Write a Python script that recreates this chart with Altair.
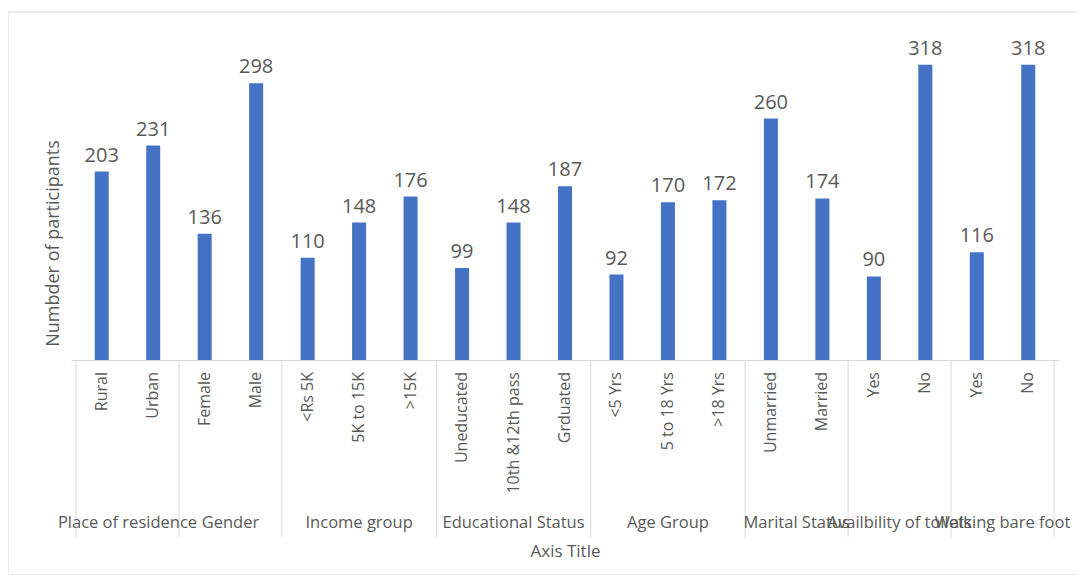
import altair as alt
import pandas as pd

categories = ["Rural", "Urban", "Female", "Male", "<Rs 5K", "5K to 15K", ">15K",
              "Uneducated", "10th &12th pass", "Grduated", "<5 Yrs", "5 to 18 Yrs",
              ">18 Yrs", "Unmarried", "Married", "Yes", "No", "Yes", "No"]
values = [203, 231, 136, 298, 110, 148, 176, 99, 148, 187, 92, 170, 172, 260, 174,
          90, 318, 116, 318]
groups = ["Place of residence", "Gender", "Income group", "Educational Status",
          "Age Group", "Marital Status", "Availbility of toilets", "Walking bare foot"]
group_sizes = [2, 2, 3, 3, 3, 2, 2, 2]

FONT = "Open Sans"
GRAY = "#595959"
LINE = "#d9d9d9"
BLUE = "#4472C4"
W, H = 988, 325

bars_df = pd.DataFrame({
    "pos": [i + 0.5 for i in range(len(categories))],
    "label": categories,
    "value": values,
})

bounds = [0]
for s in group_sizes:
    bounds.append(bounds[-1] + s)
groups_df = pd.DataFrame({
    "group": groups,
    "mid": [(bounds[i] + bounds[i + 1]) / 2 for i in range(len(groups))],
})
bounds_df = pd.DataFrame({"b": bounds})

xscale = alt.Scale(domain=[0, len(categories)], nice=False, zero=False)
yscale = alt.Scale(domain=[0, 350], nice=False)

base = alt.Chart(bars_df)

bars = base.mark_bar(color=BLUE, size=14).encode(
    x=alt.X("pos:Q", scale=xscale,
            axis=alt.Axis(title="Axis Title", labels=False, ticks=False, grid=False,
                          domain=True, domainColor=LINE, domainWidth=1,
                          titleFont=FONT, titleFontSize=17, titleFontWeight="normal",
                          titleColor=GRAY, titleY=191, titleBaseline="middle")),
    y=alt.Y("value:Q", scale=yscale,
            axis=alt.Axis(title="Numbder of participants", labels=False, ticks=False,
                          grid=False, domain=False, titleFont=FONT, titleFontSize=18,
                          titleFontWeight="normal", titleColor=GRAY, titleAngle=270,
                          titleX=-18, titleY=208, titleAlign="center",
                          titleBaseline="middle")),
)

value_labels = base.mark_text(font=FONT, fontSize=20, color=GRAY, baseline="bottom",
                              dy=-6).encode(
    x=alt.X("pos:Q", scale=xscale),
    y=alt.Y("value:Q", scale=yscale),
    text="value:Q",
)

cat_labels = base.mark_text(font=FONT, fontSize=16, color=GRAY, angle=270,
                            align="right", baseline="middle").encode(
    x=alt.X("pos:Q", scale=xscale),
    y=alt.value(H + 12),
    text="label:N",
)

seps = alt.Chart(bounds_df).mark_rule(color=LINE, strokeWidth=1).encode(
    x=alt.X("b:Q", scale=xscale),
    y=alt.value(H),
    y2=alt.value(H + 177),
)

group_labels = alt.Chart(groups_df).mark_text(font=FONT, fontSize=16.5, color=GRAY,
                                              baseline="middle").encode(
    x=alt.X("mid:Q", scale=xscale),
    y=alt.value(H + 163),
    text="group:N",
)

border = alt.Chart(groups_df.head(1)).mark_rect(fill=None, stroke=LINE,
                                                strokeWidth=1).encode(
    x=alt.value(-63), x2=alt.value(1007), y=alt.value(-23), y2=alt.value(540),
)

chart = alt.layer(border, seps, bars, value_labels, cat_labels, group_labels).properties(
    width=W, height=H,
    padding={"left": 63, "top": 27, "right": 18, "bottom": 215},
    autosize=alt.AutoSizeParams(type="none"),
    background="white",
).configure_view(stroke=None, strokeWidth=0)

chart.save("out.html", embed_options={"renderer": "svg", "actions": False})
